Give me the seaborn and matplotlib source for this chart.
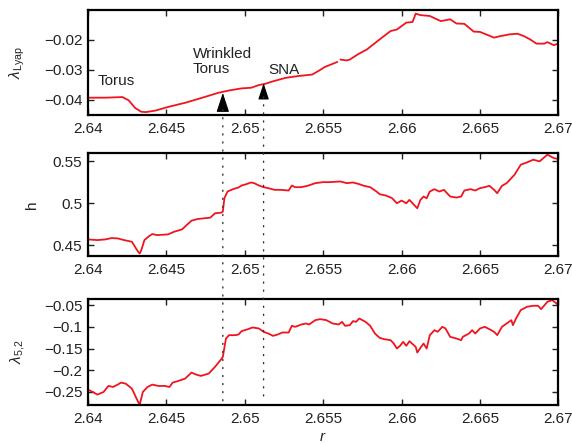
import numpy as np
import pandas as pd
import matplotlib
matplotlib.use('Agg')
import matplotlib.pyplot as plt
import seaborn as sns
from matplotlib.patches import ConnectionPatch
from matplotlib.ticker import FuncFormatter

# values
# top panel: largest Lyapunov exponent (small gap near r = 2.656)
r_lyap_a = [2.6400, 2.6411, 2.6422, 2.6426, 2.6430, 2.6434, 2.6437, 2.6443, 2.6451,
            2.6462, 2.6473, 2.6483, 2.6490, 2.6498, 2.6504, 2.6509, 2.6513, 2.6517,
            2.6526, 2.6534, 2.6543, 2.6547, 2.6551, 2.6559]
lyap_a = [-0.0393, -0.0393, -0.0391, -0.0402, -0.0427, -0.0440, -0.0441, -0.0436, -0.0424,
          -0.0410, -0.0393, -0.0377, -0.0369, -0.0362, -0.0360, -0.0351, -0.0347, -0.0340,
          -0.0327, -0.0321, -0.0316, -0.0304, -0.0291, -0.0274]
r_lyap_b = [2.6561, 2.6565, 2.6567, 2.6572, 2.6578, 2.6586, 2.6593, 2.6597, 2.6603,
            2.6607, 2.6609, 2.6612, 2.6618, 2.6625, 2.6631, 2.6635, 2.6640, 2.6646,
            2.6650, 2.6659, 2.6663, 2.6669, 2.6674, 2.6678, 2.6682, 2.6686, 2.6691,
            2.6693, 2.6697, 2.6700]
lyap_b = [-0.0266, -0.0269, -0.0266, -0.0249, -0.0232, -0.0199, -0.0171, -0.0166, -0.0143,
          -0.0141, -0.0113, -0.0118, -0.0121, -0.0138, -0.0132, -0.0146, -0.0147, -0.0173,
          -0.0174, -0.0193, -0.0188, -0.0182, -0.0180, -0.0188, -0.0199, -0.0213, -0.0213,
          -0.0208, -0.0218, -0.0213]

# middle panel: h
r_h = [2.6400, 2.6406, 2.6411, 2.6415, 2.6419, 2.6423, 2.6428, 2.6430, 2.6432, 2.6433,
       2.6434, 2.6436, 2.6439, 2.6441, 2.6444, 2.6451, 2.6455, 2.6460, 2.6463, 2.6466,
       2.6470, 2.6478, 2.6481, 2.6485, 2.6486, 2.6487, 2.6489, 2.6493, 2.6496, 2.6498,
       2.6501, 2.6504, 2.6506, 2.6509, 2.6512, 2.6515, 2.6519, 2.6523, 2.6528, 2.6530,
       2.6532, 2.6536, 2.6540, 2.6545, 2.6550, 2.6554, 2.6561, 2.6565, 2.6569, 2.6573,
       2.6576, 2.6580, 2.6584, 2.6586, 2.6590, 2.6594, 2.6597, 2.6600, 2.6603, 2.6605,
       2.6607, 2.6610, 2.6612, 2.6614, 2.6616, 2.6618, 2.6621, 2.6624, 2.6627, 2.6631,
       2.6635, 2.6638, 2.6640, 2.6644, 2.6647, 2.6650, 2.6653, 2.6656, 2.6659, 2.6661,
       2.6664, 2.6667, 2.6670, 2.6672, 2.6676, 2.6680, 2.6684, 2.6688, 2.6693, 2.6697,
       2.6700]
h = [0.4568, 0.4560, 0.4568, 0.4584, 0.4580, 0.4560, 0.4540, 0.4480, 0.4420, 0.4400,
     0.4440, 0.4560, 0.4608, 0.4632, 0.4620, 0.4628, 0.4660, 0.4688, 0.4740, 0.4792,
     0.4812, 0.4828, 0.4880, 0.4888, 0.4900, 0.5060, 0.5140, 0.5172, 0.5188, 0.5212,
     0.5228, 0.5248, 0.5240, 0.5212, 0.5192, 0.5180, 0.5160, 0.5160, 0.5152, 0.5212,
     0.5192, 0.5192, 0.5208, 0.5240, 0.5252, 0.5252, 0.5260, 0.5240, 0.5248, 0.5228,
     0.5208, 0.5192, 0.5140, 0.5108, 0.5092, 0.5060, 0.5000, 0.5032, 0.5000, 0.5040,
     0.5000, 0.4940, 0.5040, 0.5080, 0.5060, 0.5140, 0.5168, 0.5140, 0.5160, 0.5080,
     0.5068, 0.5080, 0.5152, 0.5168, 0.5152, 0.5180, 0.5192, 0.5208, 0.5160, 0.5120,
     0.5208, 0.5240, 0.5300, 0.5340, 0.5460, 0.5488, 0.5520, 0.5500, 0.5580, 0.5540,
     0.5528]

# bottom panel: lambda_{5,2}
r_l52 = [2.6400, 2.6403, 2.6406, 2.6410, 2.6413, 2.6416, 2.6419, 2.6421, 2.6424, 2.6428,
         2.6430, 2.6432, 2.6433, 2.6435, 2.6438, 2.6441, 2.6445, 2.6449, 2.6452, 2.6454,
         2.6457, 2.6462, 2.6466, 2.6469, 2.6472, 2.6477, 2.6481, 2.6485, 2.6486, 2.6488,
         2.6490, 2.6494, 2.6496, 2.6498, 2.6502, 2.6505, 2.6509, 2.6512, 2.6515, 2.6518,
         2.6521, 2.6524, 2.6528, 2.6530, 2.6532, 2.6534, 2.6536, 2.6539, 2.6541, 2.6545,
         2.6548, 2.6552, 2.6556, 2.6560, 2.6562, 2.6564, 2.6567, 2.6569, 2.6571, 2.6573,
         2.6577, 2.6580, 2.6583, 2.6586, 2.6589, 2.6593, 2.6595, 2.6597, 2.6599, 2.6601,
         2.6603, 2.6605, 2.6609, 2.6610, 2.6612, 2.6614, 2.6616, 2.6618, 2.6621, 2.6623,
         2.6626, 2.6628, 2.6631, 2.6635, 2.6638, 2.6639, 2.6643, 2.6645, 2.6647, 2.6650,
         2.6653, 2.6656, 2.6659, 2.6661, 2.6664, 2.6667, 2.6670, 2.6671, 2.6673, 2.6676,
         2.6680, 2.6684, 2.6687, 2.6689, 2.6693, 2.6696, 2.6698, 2.6700]
l52 = [-0.2446, -0.2500, -0.2562, -0.2500, -0.2362, -0.2385, -0.2331, -0.2285, -0.2308, -0.2423,
       -0.2577, -0.2731, -0.2792, -0.2500, -0.2385, -0.2331, -0.2362, -0.2362, -0.2385, -0.2285,
       -0.2254, -0.2192, -0.2054, -0.2100, -0.2131, -0.2077, -0.1923, -0.1746, -0.1692, -0.1269,
       -0.1192, -0.1192, -0.1177, -0.1100, -0.1054, -0.1015, -0.1038, -0.1115, -0.1154, -0.1208,
       -0.1177, -0.1131, -0.1131, -0.0977, -0.1000, -0.0977, -0.0946, -0.0923, -0.0946, -0.0846,
       -0.0823, -0.0846, -0.0923, -0.0946, -0.0885, -0.0977, -0.0962, -0.0869, -0.0885, -0.0808,
       -0.0885, -0.0977, -0.1154, -0.1254, -0.1285, -0.1308, -0.1385, -0.1500, -0.1438, -0.1346,
       -0.1438, -0.1331, -0.1462, -0.1592, -0.1485, -0.1385, -0.1500, -0.1192, -0.1077, -0.1115,
       -0.1000, -0.1038, -0.1231, -0.1269, -0.1308, -0.1231, -0.1154, -0.1077, -0.1154, -0.1038,
       -0.1000, -0.1054, -0.1115, -0.1192, -0.1000, -0.0923, -0.0846, -0.0962, -0.0808, -0.0615,
       -0.0538, -0.0515, -0.0515, -0.0592, -0.0423, -0.0385, -0.0438, -0.0500]

# transitions marked by arrows / dotted lines
transitions = [2.6486, 2.6512]
x_ticks = [2.64, 2.645, 2.65, 2.655, 2.66, 2.665, 2.67]

sns.set_theme(style='ticks')
plt.rcParams.update({
    'font.family': ['Liberation Sans', 'DejaVu Sans'],
    'mathtext.fontset': 'custom',
    'mathtext.rm': 'Liberation Sans',
    'mathtext.it': 'Liberation Sans:italic',
    'xtick.direction': 'in', 'ytick.direction': 'in',
    'xtick.top': True, 'ytick.right': True,
    'xtick.major.size': 4, 'ytick.major.size': 4,
    'xtick.major.width': 1.0, 'ytick.major.width': 1.0,
    'axes.linewidth': 1.6, 'axes.edgecolor': 'black',
    'xtick.labelsize': 11, 'ytick.labelsize': 11,
    'axes.labelsize': 11,
    'xtick.color': '#222222', 'ytick.color': '#222222',
})

red = '#f0141e'
fig = plt.figure(figsize=(5.72, 4.45), dpi=100)
ax1 = fig.add_axes([0.1538, 0.7407, 0.8224, 0.2375])
ax2 = fig.add_axes([0.1538, 0.4247, 0.8224, 0.2315])
ax3 = fig.add_axes([0.1538, 0.0890, 0.8224, 0.2390])

lyap_df = pd.DataFrame({'r': r_lyap_a + r_lyap_b, 'v': lyap_a + lyap_b,
                        'seg': [0] * len(r_lyap_a) + [1] * len(r_lyap_b)})
sns.lineplot(data=lyap_df, x='r', y='v', units='seg', estimator=None, sort=False,
             color=red, lw=1.3, ax=ax1)
sns.lineplot(x=r_h, y=h, estimator=None, sort=False, color=red, lw=1.3, ax=ax2)
sns.lineplot(x=r_l52, y=l52, estimator=None, sort=False, color=red, lw=1.3, ax=ax3)

fmt = FuncFormatter(lambda v, p: f'{v:g}'.replace('-', '\u2212'))
for ax in (ax1, ax2, ax3):
    ax.set_xlim(2.64, 2.67)
    ax.set_xticks(x_ticks)
    ax.xaxis.set_major_formatter(fmt)
    ax.yaxis.set_major_formatter(fmt)
    ax.tick_params(axis='x', pad=5)
    ax.tick_params(axis='y', pad=4)
    ax.set_xlabel('')

ax1.set_ylim(-0.0452, -0.0100)
ax1.set_yticks([-0.04, -0.03, -0.02])
ax2.set_ylim(0.437, 0.560)
ax2.set_yticks([0.45, 0.5, 0.55])
ax3.set_ylim(-0.281, -0.036)
ax3.set_yticks([-0.25, -0.2, -0.15, -0.1, -0.05])

ax1.set_ylabel(r'$\lambda_{\rm Lyap}$', color='#222222')
ax2.set_ylabel('h', color='#222222')
ax3.set_ylabel(r'$\lambda_{5{,}2}$', color='#222222')
ax1.yaxis.set_label_coords(-0.13, 0.5)
ax2.yaxis.set_label_coords(-0.105, 0.5)
ax3.yaxis.set_label_coords(-0.13, 0.5)
ax3.set_xlabel(r'$r$', color='#222222')
ax3.xaxis.set_label_coords(0.5, -0.235)

# annotations in the top panel
txt = dict(fontsize=11, color='#222222', va='center', ha='left')
ax1.text(2.6406, -0.0336, 'Torus', **txt)
ax1.text(2.6467, -0.0273, 'Wrinkled\nTorus', linespacing=1.1, **txt)
ax1.text(2.6515, -0.0302, 'SNA', **txt)

ax1.annotate('', xy=(transitions[0], -0.0377), xytext=(transitions[0], -0.0433),
             arrowprops=dict(arrowstyle='-|>,head_length=1.0,head_width=0.33',
                             color='black', mutation_scale=12, shrinkA=0, shrinkB=0, lw=0.8))
ax1.annotate('', xy=(transitions[1], -0.0345), xytext=(transitions[1], -0.0388),
             arrowprops=dict(arrowstyle='-|>,head_length=1.0,head_width=0.33',
                             color='black', mutation_scale=10, shrinkA=0, shrinkB=0, lw=0.8))

# dotted lines running down through all panels
for x0, y0 in zip(transitions, [-0.0433, -0.0390]):
    con = ConnectionPatch(xyA=(x0, y0), coordsA=ax1.transData,
                          xyB=(x0, -0.272), coordsB=ax3.transData,
                          linestyle=(0, (0.8, 5)), lw=1.0, color='#333333')
    fig.add_artist(con)

plt.savefig('out.png', dpi=100)
plt.close()
